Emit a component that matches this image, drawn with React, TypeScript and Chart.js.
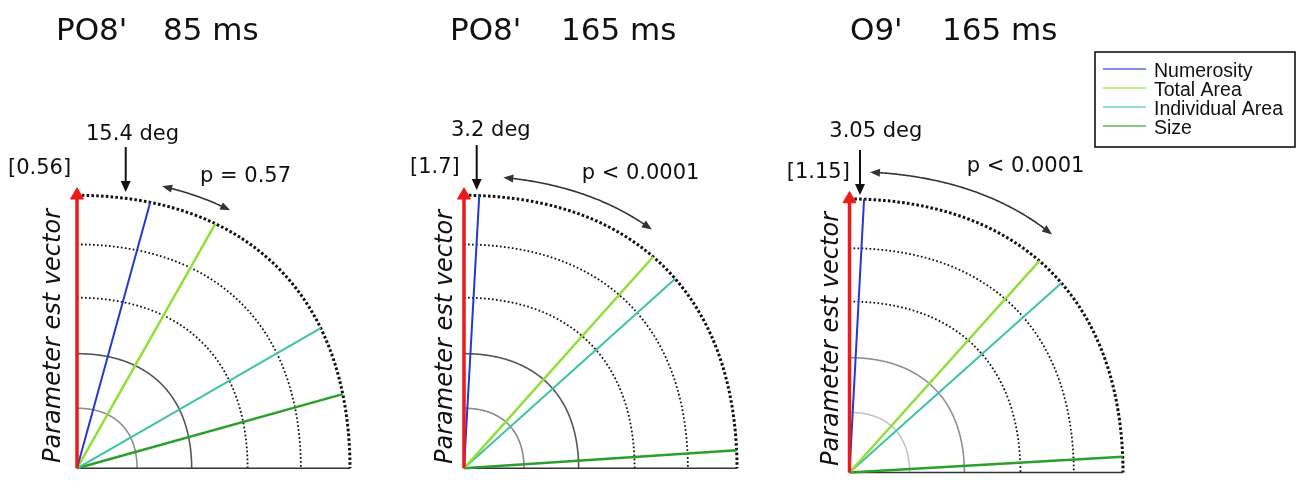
import React, { useEffect, useRef } from "react";
import { Chart, registerables } from "chart.js";

Chart.register(...registerables);

// values
const seriesNames = ["Numerosity", "Total Area", "Individual Area", "Size"];
const panelTitles = ["PO8'   85 ms", "PO8'   165 ms", "O9'   165 ms"];
const numerosityAngle = [15.4, 3.2, 3.05];
const totalAreaAngle = [29.5, 41.8, 41.9];
const individualAreaAngle = [60.1, 48.1, 48.2];
const sizeAngle = [74.4, 86.2, 86.7];
const degLabels = ["15.4 deg", "3.2 deg", "3.05 deg"];
const magnitudeLabels = ["[0.56]", "[1.7]", "[1.15]"];
const pLabels = ["p = 0.57", "p < 0.0001", "p < 0.0001"];
const ringRadii = [0.22, 0.42, 0.625, 0.82, 1.0];
const axisLabel = "Parameter est vector";

const seriesAngles = [numerosityAngle, totalAreaAngle, individualAreaAngle, sizeAngle];
const seriesColors = ["#2538d2", "#8fe03a", "#3cc4a2", "#2c9e2c"];
const seriesWidths = [2, 2.5, 2, 2.5];

const H = 486;

// page-pixel layout of the three panels
const panels = [
  {
    left: 0, width: 390, ox: 77, oy: 468.3, R: 273,
    innerGray: ["#8e8e8e", "#555555"],
    titleX: [56, 163],
    deg: { x: 132.5, y: 140, ax: 125.7, ay0: 147, ay1: 192 },
    mag: { x: 8, y: 174 },
    p: { x: 200, y: 181.5 },
    sweep: { k: 1.066, a0: 16.8, a1: 30.7 },
    label: { x: 60, y: 336 },
  },
  {
    left: 390, width: 390, ox: 464, oy: 468.3, R: 273,
    innerGray: ["#8a8a8a", "#555555"],
    titleX: [450, 561],
    deg: { x: 490.8, y: 136, ax: 476.7, ay0: 145, ay1: 190 },
    mag: { x: 410, y: 173.3 },
    p: { x: 581.7, y: 179.3 },
    sweep: { k: 1.072, a0: 7.7, a1: 38.2 },
    label: { x: 451.5, y: 337 },
  },
  {
    left: 780, width: 520, ox: 849.5, oy: 472.5, R: 273.5,
    innerGray: ["#c4c4c4", "#909090"],
    titleX: [850, 942],
    deg: { x: 875.8, y: 136.7, ax: 860, ay0: 150, ay1: 195 },
    mag: { x: 786.7, y: 177.7 },
    p: { x: 966.7, y: 171.7 },
    sweep: { k: 1.1, a0: 3.9, a1: 40.4 },
    label: { x: 838, y: 339 },
  },
];

const rad = (d: number) => (d * Math.PI) / 180;
// the rings in the figure bulge slightly away from the axes
const bulge = (d: number) => 1 + 0.04 * Math.sin(2 * rad(d)) ** 2;
const polar = (d: number, len: number) => ({ x: len * Math.sin(rad(d)), y: len * Math.cos(rad(d)) });

function head(ctx: CanvasRenderingContext2D, tx: number, ty: number, fx: number, fy: number, len: number, half: number) {
  const a = Math.atan2(ty - fy, tx - fx);
  ctx.beginPath();
  ctx.moveTo(tx, ty);
  ctx.lineTo(tx - len * Math.cos(a) + half * Math.sin(a), ty - len * Math.sin(a) - half * Math.cos(a));
  ctx.lineTo(tx - len * Math.cos(a) - half * Math.sin(a), ty - len * Math.sin(a) + half * Math.cos(a));
  ctx.closePath();
  ctx.fill();
}

const PolarPanel: React.FC<{ index: number }> = ({ index }) => {
  const canvasRef = useRef<HTMLCanvasElement | null>(null);
  const pl = panels[index];

  useEffect(() => {
    if (!canvasRef.current) return;
    const L = pl.left;

    const overlay = {
      id: "overlay",
      beforeDatasetsDraw(chart: any) {
        const { ctx, scales } = chart;
        const px = (p: { x: number; y: number }) => [scales.x.getPixelForValue(p.x), scales.y.getPixelForValue(p.y)];
        ctx.save();
        ringRadii.forEach((r, k) => {
          ctx.beginPath();
          for (let a = 0; a <= 90; a += 0.5) {
            const [x, y] = px(polar(a, r * bulge(a)));
            if (a === 0) ctx.moveTo(x, y);
            else ctx.lineTo(x, y);
          }
          if (k < 2) {
            ctx.setLineDash([]);
            ctx.strokeStyle = pl.innerGray[k];
            ctx.lineWidth = 1.6;
          } else if (k < ringRadii.length - 1) {
            ctx.setLineDash([1.7, 2.3]);
            ctx.strokeStyle = "#111";
            ctx.lineWidth = 1.8;
          } else {
            ctx.setLineDash([2.6, 2.2]);
            ctx.strokeStyle = "#111";
            ctx.lineWidth = 3;
          }
          ctx.stroke();
        });
        // base line
        ctx.setLineDash([]);
        ctx.strokeStyle = "#333";
        ctx.lineWidth = 1.6;
        const [x0, y0] = px({ x: 0, y: 0 });
        const [x1] = px({ x: 1, y: 0 });
        ctx.beginPath();
        ctx.moveTo(x0, y0);
        ctx.lineTo(x1, y0);
        ctx.stroke();
        ctx.restore();
      },
      afterDatasetsDraw(chart: any) {
        const { ctx, scales } = chart;
        const px = (p: { x: number; y: number }) => [scales.x.getPixelForValue(p.x), scales.y.getPixelForValue(p.y)];
        ctx.save();
        ctx.fillStyle = "#111";
        ctx.strokeStyle = "#111";

        // title
        const [t1, t2] = panelTitles[index].split(/\s{2,}/);
        ctx.font = "31px 'DejaVu Sans'";
        ctx.textAlign = "left";
        ctx.textBaseline = "alphabetic";
        ctx.fillText(t1, pl.titleX[0] - L, 39.5);
        ctx.fillText(t2, pl.titleX[1] - L, 39.5);

        // annotations
        ctx.font = "21px 'DejaVu Sans'";
        ctx.textAlign = "center";
        ctx.fillText(degLabels[index], pl.deg.x - L, pl.deg.y);
        ctx.textAlign = "left";
        ctx.fillText(magnitudeLabels[index], pl.mag.x - L, pl.mag.y);
        ctx.fillText(pLabels[index], pl.p.x - L, pl.p.y);

        // deg arrow
        ctx.lineWidth = 2;
        ctx.beginPath();
        ctx.moveTo(pl.deg.ax - L, pl.deg.ay0);
        ctx.lineTo(pl.deg.ax - L, pl.deg.ay1 - 8);
        ctx.stroke();
        head(ctx, pl.deg.ax - L, pl.deg.ay1, pl.deg.ax - L, pl.deg.ay0, 11, 5);

        // sweep arrow between vector and features
        const { k, a0, a1 } = pl.sweep;
        ctx.strokeStyle = "#333";
        ctx.fillStyle = "#333";
        ctx.lineWidth = 1.6;
        ctx.beginPath();
        for (let a = a0 + 1; a <= a1 - 1; a += 0.25) {
          const [x, y] = px(polar(a, k * bulge(a)));
          if (a === a0 + 1) ctx.moveTo(x, y);
          else ctx.lineTo(x, y);
        }
        ctx.stroke();
        const [sx, sy] = px(polar(a0, k * bulge(a0)));
        const [sx2, sy2] = px(polar(a0 + 2, k * bulge(a0 + 2)));
        head(ctx, sx, sy, sx2, sy2, 10, 4);
        const [ex, ey] = px(polar(a1, k * bulge(a1)));
        const [ex2, ey2] = px(polar(a1 - 2, k * bulge(a1 - 2)));
        head(ctx, ex, ey, ex2, ey2, 10, 4);

        // rotated axis label
        ctx.fillStyle = "#111";
        ctx.font = "italic 24px 'DejaVu Sans'";
        ctx.textAlign = "center";
        ctx.translate(pl.label.x - L, pl.label.y);
        ctx.rotate(-Math.PI / 2);
        ctx.fillText(axisLabel, 0, 0);
        ctx.restore();

        // shared legend drawn on the last panel
        if (index === panels.length - 1) {
          ctx.save();
          const bx = 1095 - L;
          ctx.strokeStyle = "#111";
          ctx.lineWidth = 1.6;
          ctx.strokeRect(bx, 52, 200, 95);
          ctx.font = "19.5px 'Liberation Sans'";
          ctx.textAlign = "left";
          ctx.textBaseline = "alphabetic";
          seriesNames.forEach((name, s) => {
            const base = 77 + s * 19;
            ctx.strokeStyle = seriesColors[s];
            ctx.globalAlpha = 0.75;
            ctx.lineWidth = 1.5;
            ctx.beginPath();
            ctx.moveTo(bx + 8, base - 8);
            ctx.lineTo(bx + 51, base - 8);
            ctx.stroke();
            ctx.globalAlpha = 1;
            ctx.fillStyle = "#111";
            ctx.fillText(name, bx + 59, base);
          });
          ctx.restore();
        }
      },
    };

    const datasets: any[] = [
      {
        label: "vector",
        data: [{ x: 0, y: 0 }, { x: 0, y: 1.0 }],
        borderColor: "#ee1a1a",
        borderWidth: 3.5,
        showLine: true,
        pointRadius: [0, 7.5],
        pointStyle: "triangle",
        pointBackgroundColor: "#ee1a1a",
        pointBorderColor: "#ee1a1a",
        pointBorderWidth: 1,
      },
      ...seriesNames.map((name, s) => {
        const a = seriesAngles[s][index];
        return {
          label: name,
          data: [{ x: 0, y: 0 }, polar(a, bulge(a))],
          borderColor: seriesColors[s],
          borderWidth: seriesWidths[s],
          showLine: true,
          pointRadius: 0,
        };
      }),
    ];

    const chart = new Chart(canvasRef.current, {
      type: "scatter",
      data: { datasets },
      options: {
        animation: false,
        responsive: false,
        events: [],
        layout: { padding: 0, autoPadding: false },
        plugins: { legend: { display: false }, tooltip: { enabled: false } },
        scales: {
          x: { type: "linear", display: false, min: (L - pl.ox) / pl.R, max: (L + pl.width - pl.ox) / pl.R },
          y: { type: "linear", display: false, min: (pl.oy - H) / pl.R, max: pl.oy / pl.R },
        },
      },
      plugins: [overlay],
    });

    return () => {
      chart.destroy();
    };
  }, [index]);

  return (
    <canvas
      ref={canvasRef}
      width={pl.width}
      height={H}
      style={{ position: "absolute", left: pl.left, top: 0, width: pl.width, height: H }}
    />
  );
};

const App: React.FC = () => {
  return (
    <div style={{ position: "absolute", left: 0, top: 0, width: 1300, height: H, background: "#fff" }}>
      {panels.map((_, i) => (
        <PolarPanel key={i} index={i} />
      ))}
    </div>
  );
};

export default App;
